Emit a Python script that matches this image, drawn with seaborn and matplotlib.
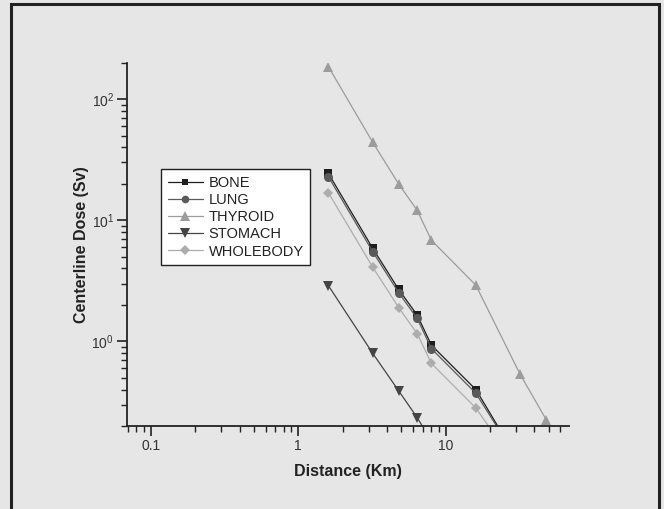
import pandas as pd
import numpy as np
import matplotlib.pyplot as plt
import matplotlib.ticker as mticker
from matplotlib.patches import Rectangle
import seaborn as sns

# Dados (distância em km, dose em Sv)
bone_dist = [1.6, 3.2, 4.8, 6.4, 8.0, 16, 32]
bone_dose = [24.4, 5.86, 2.68, 1.65, 0.93, 0.40, 0.098]

lung_dist = [1.6, 3.2, 4.8, 6.4, 8.0, 16, 32]
lung_dose = [22.9, 5.50, 2.52, 1.55, 0.87, 0.373, 0.098]

thyroid_dist = [1.6, 3.2, 4.8, 6.4, 8.0, 16, 32, 48]
thyroid_dose = [186, 44.0, 19.9, 12.1, 6.83, 2.91, 0.533, 0.226]

stomach_dist = [1.6, 3.2, 4.8, 6.4, 8.0]
stomach_dose = [2.89, 0.796, 0.390, 0.235, 0.15]

wholebody_dist = [1.6, 3.2, 4.8, 6.4, 8.0, 16, 32]
wholebody_dose = [16.9, 4.10, 1.90, 1.16, 0.657, 0.282, 0.084]

organs = ["BONE", "LUNG", "THYROID", "STOMACH", "WHOLEBODY"]

frames = []
for name, d, v in zip(organs,
                      [bone_dist, lung_dist, thyroid_dist, stomach_dist, wholebody_dist],
                      [bone_dose, lung_dose, thyroid_dose, stomach_dose, wholebody_dose]):
    frames.append(pd.DataFrame({"distance": d, "dose": v, "organ": name}))
df = pd.concat(frames, ignore_index=True)

# Estilo
sns.set_style("ticks")
plt.rcParams['font.family'] = ['Liberation Sans', 'DejaVu Sans']
bg = "#e6e6e6"

palette = {"BONE": "#1e1e1e", "LUNG": "#5a5a5a", "THYROID": "#9c9c9c",
           "STOMACH": "#444444", "WHOLEBODY": "#adadad"}
markers = {"BONE": "s", "LUNG": "o", "THYROID": "^", "STOMACH": "v", "WHOLEBODY": "D"}
msize = {"s": 5.5, "o": 6.5, "^": 7, "v": 7, "D": 5.5}
leg_msize = {"s": 5, "o": 5.5, "^": 6.5, "v": 6.5, "D": 5}

fig = plt.figure(figsize=(6.64, 5.09), dpi=100, facecolor=bg)
ax = fig.add_axes([0.1917, 0.1631, 0.6657, 0.7137])
ax.set_facecolor(bg)

sns.lineplot(data=df, x="distance", y="dose", hue="organ", style="organ",
             hue_order=organs, style_order=organs, palette=palette,
             markers=markers, dashes=False, sort=False, linewidth=0.9,
             markersize=7, markeredgewidth=0, ax=ax)

for ln in ax.lines:
    m = ln.get_marker()
    if m in msize:
        ln.set_markersize(msize[m])

ax.set_xscale("log")
ax.set_yscale("log")
ax.set_xlim(0.0693, 68.9)
ax.set_ylim(0.2, 200)

ax.xaxis.set_major_locator(mticker.FixedLocator([0.1, 1, 10]))
ax.xaxis.set_major_formatter(mticker.FuncFormatter(lambda v, p: f"{v:g}"))
ax.xaxis.set_minor_locator(mticker.LogLocator(base=10, subs=np.arange(2, 10)))
ax.xaxis.set_minor_formatter(mticker.NullFormatter())
ax.yaxis.set_major_locator(mticker.LogLocator(base=10))
ax.yaxis.set_minor_locator(mticker.LogLocator(base=10, subs=np.arange(2, 10)))
ax.yaxis.set_minor_formatter(mticker.NullFormatter())

for s in ["top", "right"]:
    ax.spines[s].set_visible(False)
for s in ["left", "bottom"]:
    ax.spines[s].set_color("#222222")
    ax.spines[s].set_linewidth(1.3)

ax.tick_params(which="major", length=7, width=1.2, color="#222222",
               labelsize=10, labelcolor="#333333", direction="out", pad=2.5)
ax.tick_params(which="minor", length=4, width=1.0, color="#222222", direction="out")

ax.set_xlabel("Distance (Km)", fontsize=11.5, fontweight="bold", color="#222222", labelpad=8)
ax.set_ylabel("Centerline Dose (Sv)", fontsize=11.5, fontweight="bold", color="#222222", labelpad=2)

sns.move_legend(ax, loc="upper left", bbox_to_anchor=(0.077, 0.707), title=None,
                frameon=True, fancybox=False, fontsize=10.5, handlelength=2.4,
                handletextpad=0.4, labelspacing=0.22, borderpad=0.45,
                borderaxespad=0)
leg = ax.get_legend()
leg.get_frame().set_facecolor("white")
leg.get_frame().set_edgecolor("#222222")
leg.get_frame().set_linewidth(1.0)
leg.get_frame().set_alpha(1)
for t in leg.get_texts():
    t.set_color("#222222")
for h in leg.legend_handles:
    m = h.get_marker()
    if m in leg_msize:
        h.set_markersize(leg_msize[m])

# Moldura da figura (sem a borda inferior)
fig.patches.append(Rectangle((0.0166, -0.05), 0.9765, 1.0419, transform=fig.transFigure,
                             fill=False, edgecolor="#222222", linewidth=2.2))

fig.savefig("out.png", dpi=100, facecolor=bg)
